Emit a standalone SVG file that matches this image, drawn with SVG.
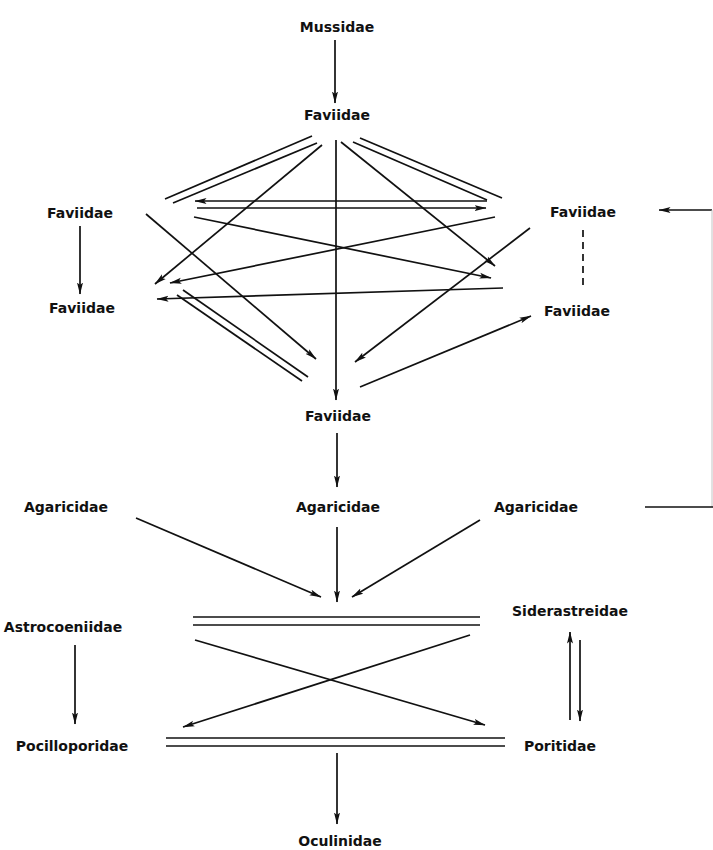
<svg xmlns="http://www.w3.org/2000/svg" width="713" height="850" viewBox="0 0 713 850">
  <defs>
    <marker id="ah" viewBox="0 0 12 7" refX="11.5" refY="3.5" markerWidth="12" markerHeight="7" markerUnits="userSpaceOnUse" orient="auto">
      <path d="M0,0.5 L12,3.5 L0,6.5 L2.5,3.5 z" fill="#111"/>
    </marker>
  </defs>
  <style>
    text { font-family: "DejaVu Sans", "Liberation Sans", sans-serif; font-weight: bold; font-size: 14px; fill: #111; text-anchor: middle; }
    .ln { stroke: #111; stroke-width: 1.7; fill: none; }
    .ar { stroke: #111; stroke-width: 1.7; fill: none; marker-end: url(#ah); }
    .dash { stroke: #111; stroke-width: 1.7; fill: none; stroke-dasharray: 7 5; }
    .faint { stroke: #c4c4c4; stroke-width: 1; fill: none; }
  </style>
  <rect width="713" height="850" fill="#fff"/>

  <!-- family labels -->
  <g id="mussidae"><text x="337" y="32">Mussidae</text></g>
  <g id="faviidae-top"><text x="337" y="120">Faviidae</text></g>
  <g id="faviidae-l1"><text x="80" y="218">Faviidae</text></g>
  <g id="faviidae-r1"><text x="583" y="217">Faviidae</text></g>
  <g id="faviidae-l2"><text x="82" y="313">Faviidae</text></g>
  <g id="faviidae-r2"><text x="577" y="316">Faviidae</text></g>
  <g id="faviidae-c"><text x="338" y="421">Faviidae</text></g>
  <g id="agaricidae-l"><text x="66" y="512">Agaricidae</text></g>
  <g id="agaricidae-c"><text x="338" y="512">Agaricidae</text></g>
  <g id="agaricidae-r"><text x="536" y="512">Agaricidae</text></g>
  <g id="siderastreidae"><text x="570" y="616">Siderastreidae</text></g>
  <g id="astrocoeniidae"><text x="63" y="632">Astrocoeniidae</text></g>
  <g id="pocilloporidae"><text x="72" y="751">Pocilloporidae</text></g>
  <g id="poritidae"><text x="560" y="751">Poritidae</text></g>
  <g id="oculinidae"><text x="340" y="846">Oculinidae</text></g>

  <g id="connectors">
    <!-- Mussidae to Faviidae -->
    <line class="ar" x1="335" y1="40" x2="335" y2="103"/>

    <!-- double bonds from the upper Faviidae -->
    <line class="ln" x1="312" y1="136" x2="165" y2="199"/>
    <line class="ln" x1="317" y1="143" x2="173" y2="203"/>
    <line class="ln" x1="360" y1="138" x2="502" y2="198"/>
    <line class="ln" x1="353" y1="142" x2="487" y2="200"/>

    <!-- fan from the upper Faviidae -->
    <line class="ar" x1="322" y1="145" x2="155" y2="284"/>
    <line class="ar" x1="341" y1="142" x2="495" y2="266"/>
    <line class="ar" x1="336" y1="140" x2="336" y2="400"/>

    <!-- exchange between the side Faviidae -->
    <line class="ar" x1="487" y1="201" x2="195" y2="201"/>
    <line class="ar" x1="197" y1="208" x2="486" y2="208"/>
    <line class="ar" x1="495" y1="217" x2="170" y2="283"/>
    <line class="ar" x1="194" y1="217" x2="491" y2="278"/>
    <line class="ar" x1="530" y1="228" x2="355" y2="362"/>
    <line class="ar" x1="503" y1="288" x2="157" y2="299"/>
    <line class="ar" x1="360" y1="387" x2="531" y2="316"/>
    <line class="ar" x1="146" y1="214" x2="316" y2="359"/>
    <line class="ln" x1="183" y1="290" x2="308" y2="377"/>
    <line class="ln" x1="177" y1="295" x2="302" y2="381"/>

    <!-- side columns -->
    <line class="ar" x1="80" y1="226" x2="80" y2="294"/>
    <line class="dash" x1="583" y1="230" x2="583" y2="290"/>

    <!-- return path on the right edge -->
    <line class="ar" x1="712" y1="210" x2="659" y2="210"/>
    <line class="faint" x1="712" y1="210" x2="712" y2="507"/>
    <line class="ln" x1="713" y1="507" x2="645" y2="507"/>

    <!-- Faviidae to Agaricidae -->
    <line class="ar" x1="337" y1="433" x2="337" y2="487"/>

    <!-- Agaricidae converge -->
    <line class="ar" x1="136" y1="518" x2="321" y2="597"/>
    <line class="ar" x1="337" y1="527" x2="337" y2="602"/>
    <line class="ar" x1="480" y1="520" x2="352" y2="597"/>

    <!-- lower block -->
    <line class="ln" x1="193" y1="617" x2="480" y2="617"/>
    <line class="ln" x1="193" y1="625" x2="480" y2="625"/>
    <line class="ar" x1="75" y1="645" x2="75" y2="724"/>
    <line class="ar" x1="195" y1="640" x2="485" y2="725"/>
    <line class="ar" x1="470" y1="635" x2="183" y2="727"/>
    <line class="ar" x1="570" y1="720" x2="570" y2="632"/>
    <line class="ar" x1="580" y1="640" x2="580" y2="721"/>
    <line class="ln" x1="166" y1="738" x2="505" y2="738"/>
    <line class="ln" x1="166" y1="746" x2="505" y2="746"/>
    <line class="ar" x1="337" y1="753" x2="337" y2="824"/>
  </g>
</svg>
